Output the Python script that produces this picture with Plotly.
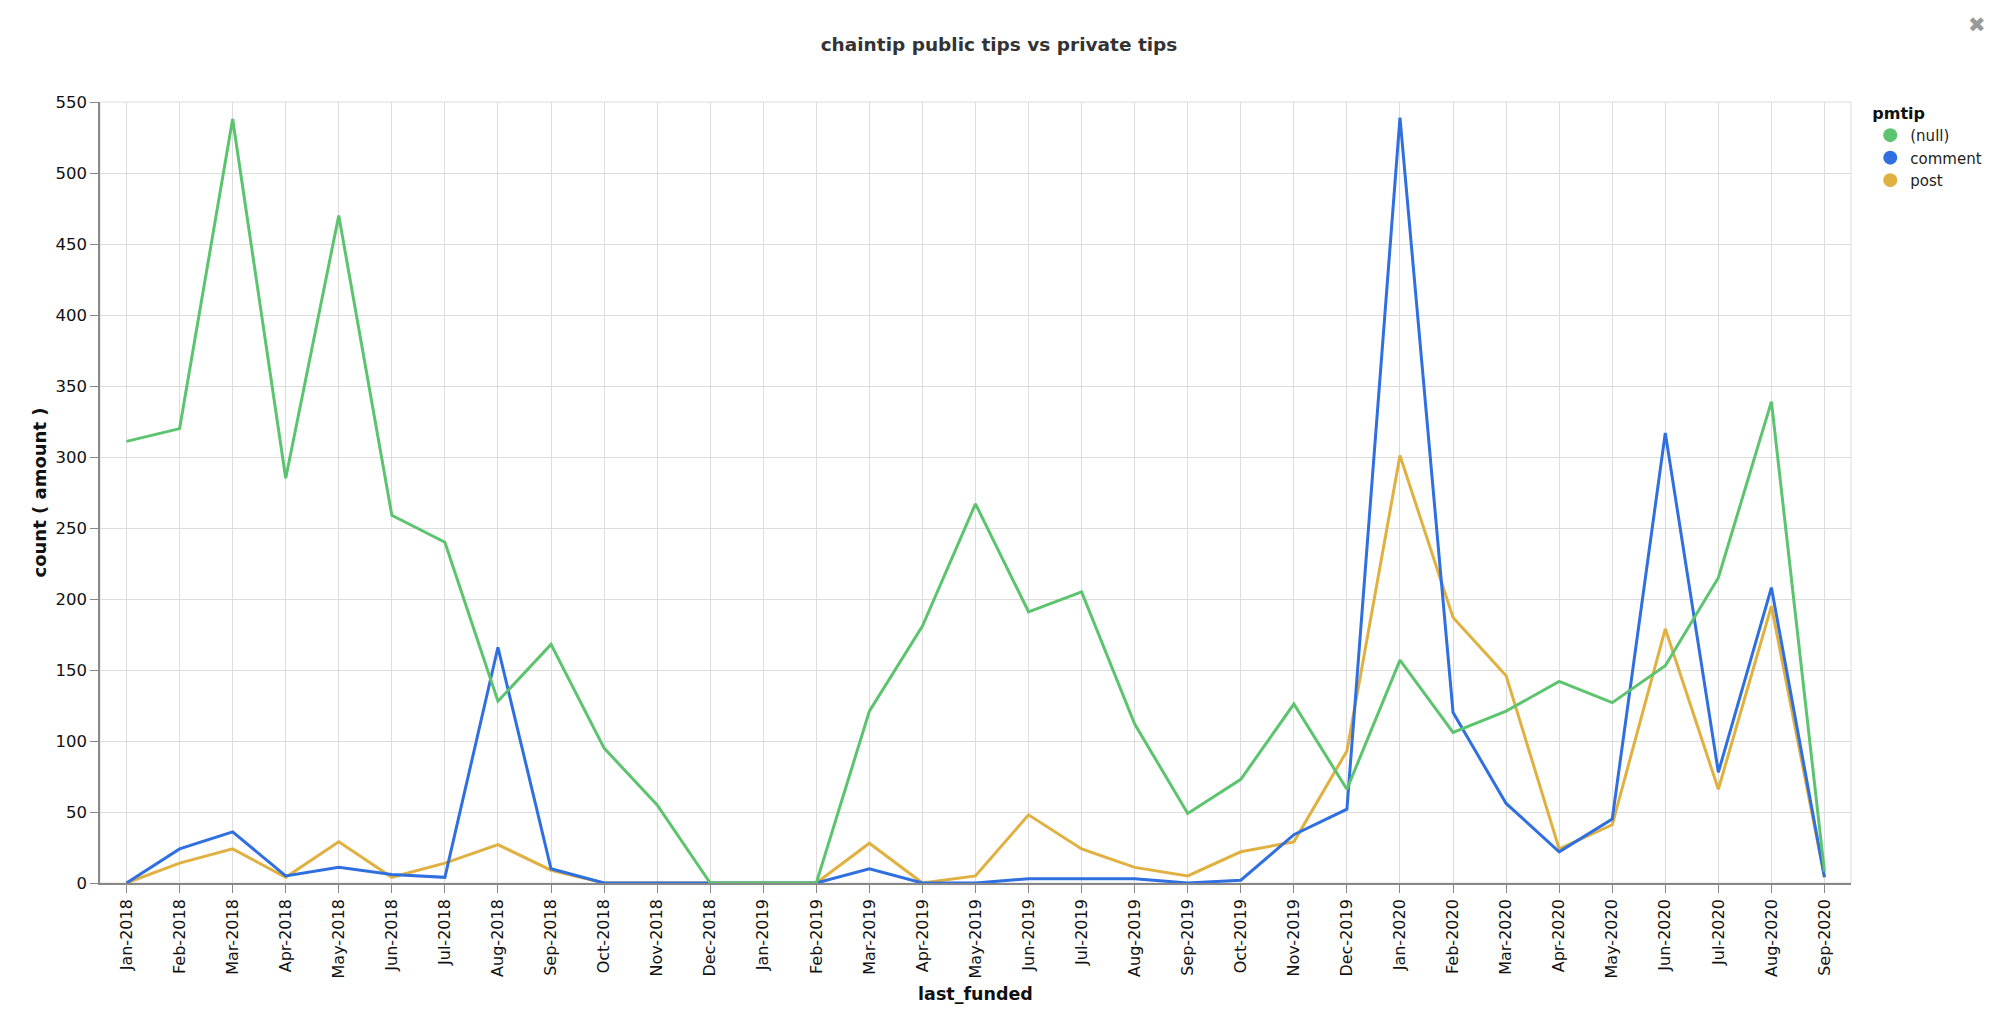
import plotly.graph_objects as go

months = ['Jan-2018', 'Feb-2018', 'Mar-2018', 'Apr-2018', 'May-2018', 'Jun-2018',
          'Jul-2018', 'Aug-2018', 'Sep-2018', 'Oct-2018', 'Nov-2018', 'Dec-2018',
          'Jan-2019', 'Feb-2019', 'Mar-2019', 'Apr-2019', 'May-2019', 'Jun-2019',
          'Jul-2019', 'Aug-2019', 'Sep-2019', 'Oct-2019', 'Nov-2019', 'Dec-2019',
          'Jan-2020', 'Feb-2020', 'Mar-2020', 'Apr-2020', 'May-2020', 'Jun-2020',
          'Jul-2020', 'Aug-2020', 'Sep-2020']

null_tips = [311, 320, 538, 285, 470, 259, 240, 128, 168, 95, 55, 0,
             0, 0, 121, 181, 267, 191, 205, 112, 49, 73, 126, 66,
             157, 106, 121, 142, 127, 153, 215, 339, 8]
comment_tips = [0, 24, 36, 5, 11, 6, 4, 166, 10, 0, 0, 0,
                0, 0, 10, 0, 0, 3, 3, 3, 0, 2, 34, 52,
                539, 120, 56, 22, 45, 317, 78, 208, 4]
post_tips = [0, 14, 24, 4, 29, 4, 14, 27, 9, 0, 0, 0,
             0, 0, 28, 0, 5, 48, 24, 11, 5, 22, 29, 93,
             301, 187, 146, 24, 41, 179, 66, 195, 4]

series = [('(null)', null_tips, '#5cc46e'),
          ('comment', comment_tips, '#2f6fe0'),
          ('post', post_tips, '#e0b040')]

FONT = 'DejaVu Sans'

fig = go.Figure()

# lines, drawn so that (null) ends up on top
for name, vals, color in reversed(series):
    fig.add_trace(go.Scatter(x=months, y=vals, mode='lines', name=name,
                             line=dict(color=color, width=3),
                             showlegend=False))

# round legend symbols
for name, vals, color in series:
    fig.add_trace(go.Scatter(x=[None], y=[None], mode='markers', name=name,
                             marker=dict(color=color, size=14)))

fig.update_layout(
    width=2000, height=1020,
    margin=dict(l=92, r=157, t=94, b=145),
    plot_bgcolor='white', paper_bgcolor='white',
    font=dict(family=FONT, color='#111'),
    title=dict(text='chaintip public tips vs private tips', x=0.4955, xanchor='center',
               y=1 - 37 / 1020, yanchor='middle',
               font=dict(family=FONT, size=18.5, color='#333', weight='bold')),
    legend=dict(title=dict(text='<b>pmtip</b>', font=dict(size=16, color='#111')),
                x=1.011, xanchor='left', y=1.005, yanchor='top',
                font=dict(size=15, color='#222'), tracegroupgap=0,
                itemclick=False),
    xaxis=dict(type='category', categoryorder='array', categoryarray=months,
               range=[-0.5, 32.5], tickangle=-90, tickfont=dict(size=16),
               showgrid=True, gridcolor='#dcdcdc', gridwidth=1,
               showline=True, linecolor='#888', linewidth=1.5,
               ticks='outside', ticklen=8, tickcolor='#888',
               title=dict(text='<b>last_funded</b>', font=dict(size=17.5, color='#111'),
                          standoff=10),
               zeroline=False),
    yaxis=dict(range=[0, 550], tickvals=list(range(0, 551, 50)),
               tickfont=dict(size=16.5),
               showgrid=True, gridcolor='#dcdcdc', gridwidth=1,
               showline=True, linecolor='#888', linewidth=1.5,
               ticks='outside', ticklen=8, tickcolor='#888',
               title=dict(text='<b>count ( amount )</b>', font=dict(size=18, color='#111'),
                          standoff=4),
               zeroline=False),
)

# light frame on the top and right of the plot area
fig.add_shape(type='rect', xref='paper', yref='paper', x0=0, x1=1, y0=0, y1=1,
              line=dict(color='#dcdcdc', width=1), layer='below')

# close mark in the corner
fig.add_annotation(text='✖', xref='paper', yref='paper', x=1.078, y=1.116,
                   showarrow=False, font=dict(size=21, color='#999'))

fig.write_html('out.html')
